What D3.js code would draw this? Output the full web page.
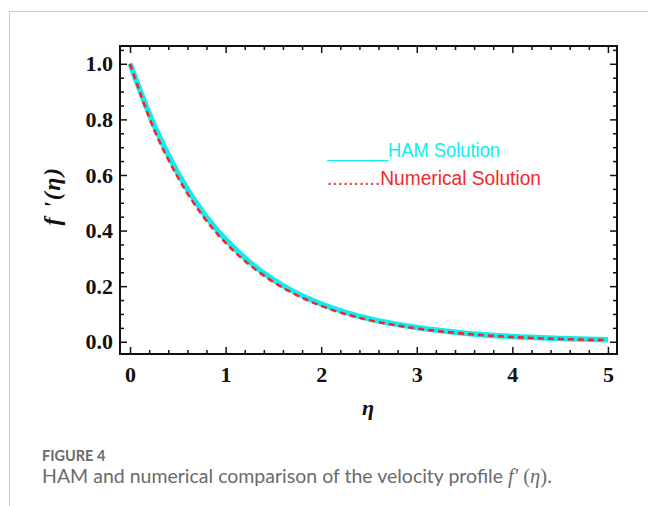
<!DOCTYPE html>
<html>
<head>
<meta charset="utf-8">
<script src="https://cdn.jsdelivr.net/npm/d3@7"></script>
<style>
  body { margin: 0; background: #fff; }
  svg { display: block; }
</style>
</head>
<body>
<div id="page"></div>
<script>
// data
const eta = [0, 0.25, 0.5, 0.75, 1, 1.25, 1.5, 1.75, 2, 2.5, 3, 3.5, 4, 4.5, 5];
const ham = [1.0, 0.78, 0.607, 0.472, 0.368, 0.287, 0.223, 0.174, 0.136, 0.083, 0.051, 0.031, 0.019, 0.012, 0.007];
const numerical = [1.0, 0.765, 0.592, 0.458, 0.356, 0.277, 0.215, 0.167, 0.129, 0.078, 0.048, 0.029, 0.017, 0.010, 0.006];
const xTicks = [0, 1, 2, 3, 4, 5];
const yTicks = [0.0, 0.2, 0.4, 0.6, 0.8, 1.0];

const width = 648, height = 506;
const plot = {left: 120, top: 46, right: 617, bottom: 354};

var svg = d3.select('#page').append('svg')
  .attr('width', width).attr('height', height);

// card border
svg.append('line').attr('x1', 9).attr('x2', width).attr('y1', 11.5).attr('y2', 11.5)
  .attr('stroke', '#c8c8c8').attr('stroke-width', 1);
svg.append('line').attr('x1', 9.5).attr('x2', 9.5).attr('y1', 11).attr('y2', height)
  .attr('stroke', '#c8c8c8').attr('stroke-width', 1);

var x = d3.scaleLinear().domain([-0.105, 5.095]).range([plot.left, plot.right]);
var y = d3.scaleLinear().domain([-0.044, 1.064]).range([plot.bottom, plot.top]);

const minorX = d3.range(0, 5.01, 0.2).filter(v => Math.abs(v - Math.round(v)) > 1e-6);
const minorY = d3.range(0, 1.06, 0.05).filter(v => Math.abs(v * 5 - Math.round(v * 5)) > 1e-6);

function styleAxis(g) {
  g.select('.domain').remove();
  g.selectAll('line').attr('stroke', '#111').attr('stroke-width', 1.5);
  g.selectAll('text').attr('font-family', '"Liberation Serif", "Times New Roman", serif')
    .attr('font-weight', 'bold').attr('font-size', 22).attr('fill', '#111');
}

// major + minor ticks, drawn inward
var axes = [
  {ax: d3.axisBottom(x), t: 'translate(0,' + plot.bottom + ')', major: xTicks, minor: minorX, labels: true},
  {ax: d3.axisTop(x), t: 'translate(0,' + plot.top + ')', major: xTicks, minor: minorX, labels: false},
  {ax: d3.axisLeft(y), t: 'translate(' + plot.left + ',0)', major: yTicks, minor: minorY, labels: true},
  {ax: d3.axisRight(y), t: 'translate(' + plot.right + ',0)', major: yTicks, minor: minorY, labels: false}
];
axes.forEach(function(a) {
  var isY = a.major === yTicks;
  var fmt = a.labels ? (isY ? d3.format('.1f') : d3.format('d')) : () => '';
  svg.append('g').attr('transform', a.t)
    .call(a.ax.tickValues(a.major).tickSize(-7).tickPadding(isY ? 7 : 12).tickFormat(fmt))
    .call(styleAxis);
  svg.append('g').attr('transform', a.t)
    .call(a.ax.tickValues(a.minor).tickSize(-4).tickFormat(() => ''))
    .call(styleAxis);
});

// frame
svg.append('rect')
  .attr('x', plot.left).attr('y', plot.top)
  .attr('width', plot.right - plot.left).attr('height', plot.bottom - plot.top)
  .attr('fill', 'none').attr('stroke', '#111').attr('stroke-width', 2);

var line = d3.line().curve(d3.curveMonotoneX)
  .x(function(d) { return x(d[0]); })
  .y(function(d) { return y(d[1]); });

svg.append('path').datum(d3.zip(eta, ham))
  .attr('d', line).attr('fill', 'none')
  .attr('stroke', '#12ecec').attr('stroke-width', 5.5);

svg.append('path').datum(d3.zip(eta, numerical))
  .attr('d', line).attr('fill', 'none')
  .attr('stroke', '#f0282c').attr('stroke-width', 2.6)
  .attr('stroke-dasharray', '6,4');

// legend
svg.append('text').attr('x', 327).attr('y', 157)
  .attr('font-family', '"Liberation Sans", Arial, sans-serif').attr('font-size', 19.5)
  .attr('textLength', 173).attr('lengthAdjust', 'spacingAndGlyphs')
  .attr('fill', '#12ecec').text('______HAM Solution');
svg.append('text').attr('x', 327).attr('y', 185)
  .attr('font-family', '"Liberation Sans", Arial, sans-serif').attr('font-size', 19.5)
  .attr('textLength', 214).attr('lengthAdjust', 'spacingAndGlyphs')
  .attr('fill', '#f0282c').text('..........Numerical Solution');

// axis titles
svg.append('text').attr('x', 368).attr('y', 415).attr('text-anchor', 'middle')
  .attr('font-family', '"Liberation Serif", "Times New Roman", serif')
  .attr('font-weight', 'bold').attr('font-style', 'italic').attr('font-size', 22)
  .attr('fill', '#111').text('η');
svg.append('text').attr('transform', 'translate(60,196) rotate(-90)').attr('text-anchor', 'middle')
  .attr('font-family', '"Liberation Serif", "Times New Roman", serif')
  .attr('font-weight', 'bold').attr('font-style', 'italic').attr('font-size', 24)
  .attr('letter-spacing', 1.5)
  .attr('fill', '#111').text("f '(η)");

// caption
svg.append('text').attr('x', 42).attr('y', 461)
  .attr('font-family', 'Lato, "Open Sans", sans-serif').attr('font-size', 14.5)
  .attr('font-weight', 'bold').attr('fill', '#6b6b6b').text('FIGURE 4');
svg.append('text').attr('x', 42).attr('y', 483)
  .attr('font-family', 'Lato, "Open Sans", sans-serif').attr('font-size', 19.5)
  .attr('fill', '#6b6b6b')
  .call(function(t) {
    t.append('tspan').text('HAM and numerical comparison of the velocity profile ');
    t.append('tspan').attr('font-family', '"Liberation Serif", serif').attr('font-style', 'italic').attr('font-size', 20.5).text('f′');
    t.append('tspan').attr('font-family', '"Liberation Serif", serif').attr('font-size', 20.5).text(' (');
    t.append('tspan').attr('font-family', '"Liberation Serif", serif').attr('font-style', 'italic').attr('font-size', 20.5).text('η');
    t.append('tspan').attr('font-family', '"Liberation Serif", serif').attr('font-size', 20.5).text(').');
  });
</script>
</body>
</html>
